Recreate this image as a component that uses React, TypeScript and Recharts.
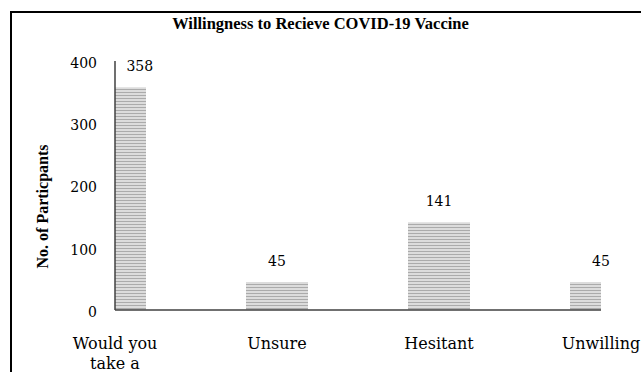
import React from "react";
import { BarChart, Bar, XAxis, YAxis, LabelList } from "recharts";

const categories = ["Would you take a", "Unsure", "Hesitant", "Unwilling"];
const participants = [358, 45, 141, 45];
const yTicks = [0, 100, 200, 300, 400];
const titleText = "Willingness to Recieve COVID-19 Vaccine";
const yLabelText = "No. of Particpants";

const data = categories.map((name, i) => ({ pos: i, name, value: participants[i] }));
const xTicks = categories.map((_, i) => i);

const CHART_W = 641;
const CHART_H = 372;
const X_AXIS_H = 30;
const MARGIN = { top: 61, right: 40, bottom: 62 - X_AXIS_H, left: 0 };
const Y_AXIS_W = 115;
const PLOT_LEFT = MARGIN.left + Y_AXIS_W;

const SERIF = "'DejaVu Serif', serif";
const TITLE_FONT = "'Liberation Serif', serif";

function wrapWords(text: string, maxChars: number): string[] {
  const words = text.split(" ");
  const lines: string[] = [];
  let cur = "";
  for (const w of words) {
    const next = cur ? cur + " " + w : w;
    if (next.length > maxChars && cur) {
      lines.push(cur);
      cur = w;
    } else {
      cur = next;
    }
  }
  if (cur) lines.push(cur);
  return lines;
}

const XTick = (props: any) => {
  const { x, y, payload } = props;
  const label = categories[payload.value] ?? "";
  const lines = wrapWords(label, 10);
  return (
    <text x={x} y={y} textAnchor="middle" fontFamily={SERIF} fontSize={16} fill="#000">
      {lines.map((l, i) => (
        <tspan key={i} x={x} dy={i === 0 ? 31 : 20}>
          {l}
        </tspan>
      ))}
    </text>
  );
};

const ValueLabel = (props: any) => {
  const { x, y, width, value } = props;
  const half = String(value).length * 4.6;
  let cx = x + width / 2;
  if (cx - half < PLOT_LEFT + 11) cx = PLOT_LEFT + 11 + half;
  return (
    <text x={cx} y={y - 16} textAnchor="middle" fontFamily={SERIF} fontSize={14} fill="#000">
      {value}
    </text>
  );
};

const YLabel = (props: any) => {
  const vb = props.viewBox || {};
  const cx = (vb.x ?? 0) + 42;
  const cy = (vb.y ?? 0) + (vb.height ?? 0) / 2 + 21;
  return (
    <text
      x={cx}
      y={cy}
      textAnchor="middle"
      dominantBaseline="central"
      transform={`rotate(-90, ${cx}, ${cy})`}
      fontFamily={TITLE_FONT}
      fontWeight="bold"
      fontSize={16}
      fill="#000"
    >
      {yLabelText}
    </text>
  );
};

export default function App() {
  return (
    <div
      style={{
        position: "fixed",
        left: 0,
        top: 0,
        width: CHART_W,
        height: CHART_H,
        overflow: "hidden",
        background: "#fff",
      }}
    >
      <div
        style={{
          position: "absolute",
          left: 10,
          top: 11,
          width: 700,
          height: 500,
          border: "2px solid #000",
          boxSizing: "border-box",
        }}
      />
      <div
        style={{
          position: "absolute",
          left: 0,
          top: 13,
          width: 641,
          textAlign: "center",
          fontFamily: TITLE_FONT,
          fontWeight: "bold",
          fontSize: 16.5,
          color: "#000",
          lineHeight: "22px",
        }}
      >
        {titleText}
      </div>
      <div style={{ position: "absolute", left: 0, top: 0 }}>
        <BarChart width={CHART_W} height={CHART_H} data={data} margin={MARGIN}>
          <defs>
            <pattern id="stripes" patternUnits="userSpaceOnUse" width="6" height="3">
              <rect x="0" y="0" width="6" height="3" fill="#dcdcdc" />
              <rect x="0" y="2" width="6" height="1" fill="#ababab" />
            </pattern>
          </defs>
          <XAxis
            type="number"
            dataKey="pos"
            height={X_AXIS_H}
            domain={[0, categories.length - 1]}
            ticks={xTicks}
            allowDataOverflow
            interval={0}
            tickLine={false}
            tick={<XTick />}
            axisLine={{ stroke: "#404040", strokeWidth: 1.5 }}
          />
          <YAxis
            width={Y_AXIS_W}
            domain={[0, 400]}
            ticks={yTicks}
            tickLine={false}
            tickSize={0}
            tickMargin={18}
            axisLine={{ stroke: "#404040", strokeWidth: 1.5 }}
            tick={{ fontFamily: SERIF, fontSize: 14, fill: "#000", dy: 2 }}
            label={<YLabel />}
          />
          <Bar dataKey="value" barSize={62} fill="url(#stripes)" isAnimationActive={false}>
            <LabelList dataKey="value" content={<ValueLabel />} />
          </Bar>
        </BarChart>
      </div>
    </div>
  );
}
